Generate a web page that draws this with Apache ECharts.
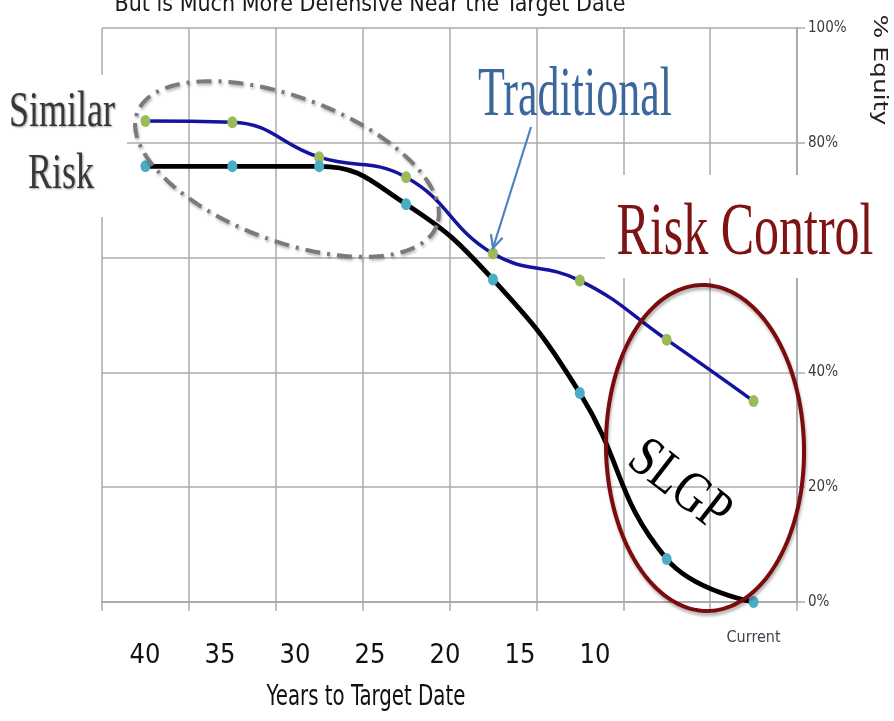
<!DOCTYPE html>
<html>
<head>
<meta charset="utf-8">
<script src="https://cdn.jsdelivr.net/npm/echarts@6/dist/echarts.min.js"></script>
<style>
  html, body { margin: 0; padding: 0; background: #ffffff; }
  #chart { width: 894px; height: 721px; }
</style>
</head>
<body>
<div id="chart"></div>
<script>
// Glide-path stages (left = far from target date, right = at target date)
const stages = ['40', '35', '30', '25', '20', '15', '10', 'Current'];
// % equity held at each stage
const traditional = [83.8, 83.6, 77.5, 74.0, 60.7, 56.0, 45.7, 35.0];
const slgp = [75.9, 75.9, 75.9, 69.3, 56.2, 36.4, 7.5, 0];
// Tick labels
const yearTicks = [40, 35, 30, 25, 20, 15, 10];
const equityTicks = [0, 20, 40, 60, 80, 100];

const NARROW = '"DejaVu Sans Condensed", "Liberation Sans Narrow", sans-serif';
const SERIF = '"Liberation Serif", "DejaVu Serif", serif';
const GRID_COLOR = '#ababab';

// Closed polygon tracing a rotated ellipse (used for the callout rings)
function ellipsePoints(cx, cy, rx, ry, rot, n) {
  const pts = [];
  const c = Math.cos(rot), s = Math.sin(rot);
  for (let i = 0; i < n; i++) {
    const t = (i / n) * Math.PI * 2;
    const ex = rx * Math.cos(t), ey = ry * Math.sin(t);
    pts.push([cx + ex * c - ey * s, cy + ex * s + ey * c]);
  }
  return pts;
}

// Arrow from the "Traditional" caption to its line
const arrowFrom = [531, 127], arrowTo = [493, 248];
function arrowHead(from, to, len, ang) {
  const dx = to[0] - from[0], dy = to[1] - from[1];
  const d = Math.hypot(dx, dy), ux = dx / d, uy = dy / d;
  const wing = a => [to[0] - len * (ux * Math.cos(a) - uy * Math.sin(a)),
                     to[1] - len * (ux * Math.sin(a) + uy * Math.cos(a))];
  return [wing(ang), to, wing(-ang)];
}

const chart = echarts.init(document.getElementById('chart'), null, { renderer: 'canvas' });

const yearScale = 15; // px per year on the year label axis
const gridLeft = 102, gridRight = 797, yearAnchorX = 145;

chart.setOption({
  animation: false,
  backgroundColor: '#ffffff',
  grid: { left: gridLeft, right: 894 - gridRight, top: 28, bottom: 119, containLabel: false },
  xAxis: [
    {
      type: 'category',
      data: stages,
      boundaryGap: true,
      position: 'bottom',
      axisLine: { show: true, onZero: false, lineStyle: { color: GRID_COLOR, width: 2 } },
      axisTick: { show: true, length: 9, lineStyle: { color: GRID_COLOR, width: 1.5 } },
      splitLine: { show: true, lineStyle: { color: GRID_COLOR, width: 1.5 } },
      axisLabel: {
        interval: 0,
        margin: 28,
        fontFamily: NARROW,
        fontSize: 16,
        color: '#3f4650',
        formatter: v => (v === 'Current' ? v : '')
      }
    },
    {
      type: 'value',
      position: 'bottom',
      inverse: true,
      min: yearTicks[0] - (gridRight - yearAnchorX) / yearScale,
      max: yearTicks[0] + (yearAnchorX - gridLeft) / yearScale,
      axisLine: { show: false, onZero: false },
      axisTick: { show: false },
      splitLine: { show: false },
      axisLabel: {
        customValues: yearTicks,
        margin: 40,
        fontFamily: NARROW,
        fontSize: 27,
        color: '#111111'
      }
    }
  ],
  yAxis: {
    type: 'value',
    position: 'right',
    min: equityTicks[0],
    max: equityTicks[equityTicks.length - 1],
    interval: equityTicks[1] - equityTicks[0],
    axisLine: { show: true, onZero: false, lineStyle: { color: GRID_COLOR, width: 2 } },
    axisTick: { show: true, length: 8, lineStyle: { color: GRID_COLOR, width: 1.5 } },
    splitLine: { show: true, lineStyle: { color: GRID_COLOR, width: 1.5 } },
    axisLabel: {
      margin: 11,
      fontFamily: NARROW,
      fontSize: 15,
      color: '#3a3a3a',
      formatter: '{value}%'
    }
  },
  series: [
    {
      name: 'Traditional',
      type: 'line',
      data: traditional,
      smooth: 0.45,
      symbol: 'circle',
      symbolSize: [10, 12],
      lineStyle: { color: '#1414a0', width: 3.5 },
      itemStyle: { color: '#9bbb59' },
      z: 3
    },
    {
      name: 'SLGP',
      type: 'line',
      data: slgp,
      smooth: 0.45,
      symbol: 'circle',
      symbolSize: [10, 12],
      lineStyle: { color: '#000000', width: 4.8 },
      itemStyle: { color: '#4bacc6' },
      z: 4
    }
  ],
  graphic: [
    // caption backgrounds
    { type: 'rect', z: 50, shape: { x: 0, y: 75, width: 127, height: 142 }, style: { fill: '#ffffff' } },
    { type: 'rect', z: 50, shape: { x: 605, y: 175, width: 289, height: 103 }, style: { fill: '#ffffff' } },
    // heading
    {
      type: 'text', z: 60, x: 370, y: 17,
      style: {
        text: 'But is Much More Defensive Near the Target Date',
        font: '23px ' + NARROW, fill: '#1a1a1a', align: 'center', verticalAlign: 'bottom'
      }
    },
    // right axis title
    {
      type: 'text', z: 60, x: 879, y: 70, rotation: -Math.PI / 2, scaleX: 1.25,
      style: { text: '% Equity', font: '20px "DejaVu Sans", sans-serif', fill: '#222222', align: 'center', verticalAlign: 'middle' }
    },
    // x axis title
    {
      type: 'text', z: 60, x: 366, y: 698, scaleY: 1.3,
      style: { text: 'Years to Target Date', font: '22px ' + NARROW, fill: '#111111', align: 'center', verticalAlign: 'middle' }
    },
    // "Similar Risk" caption and its dash-dot ring
    {
      type: 'text', z: 60, x: 62, y: 112, scaleY: 1.43,
      style: { text: 'Similar', font: '36px ' + SERIF, fill: '#3a3834', align: 'center', verticalAlign: 'middle',
               textShadowColor: 'rgba(0,0,0,0.35)', textShadowBlur: 2, textShadowOffsetX: 1, textShadowOffsetY: 1 }
    },
    {
      type: 'text', z: 60, x: 61, y: 174, scaleY: 1.43,
      style: { text: 'Risk', font: '36px ' + SERIF, fill: '#3a3834', align: 'center', verticalAlign: 'middle',
               textShadowColor: 'rgba(0,0,0,0.35)', textShadowBlur: 2, textShadowOffsetX: 1, textShadowOffsetY: 1 }
    },
    {
      type: 'polygon', z: 70,
      shape: { points: ellipsePoints(287, 169, 160, 72, 0.36, 180) },
      style: { fill: null, stroke: '#7a7a7a', lineWidth: 4, lineDash: [15, 7, 3, 7],
               shadowColor: 'rgba(0,0,0,0.3)', shadowBlur: 3, shadowOffsetX: 1, shadowOffsetY: 2 }
    },
    // "Traditional" caption and arrow
    {
      type: 'text', z: 60, x: 575, y: 97, scaleY: 1.57,
      style: { text: 'Traditional', font: '44px ' + SERIF, fill: '#3a679c', align: 'center', verticalAlign: 'middle' }
    },
    {
      type: 'line', z: 70,
      shape: { x1: arrowFrom[0], y1: arrowFrom[1], x2: arrowTo[0], y2: arrowTo[1] },
      style: { stroke: '#4f81bd', lineWidth: 2.2 }
    },
    {
      type: 'polyline', z: 70,
      shape: { points: arrowHead(arrowFrom, arrowTo, 14, 0.45) },
      style: { stroke: '#4f81bd', lineWidth: 2.2, fill: null }
    },
    // "Risk Control" caption and ring
    {
      type: 'text', z: 60, x: 745, y: 234, scaleY: 1.5,
      style: { text: 'Risk Control', font: '50px ' + SERIF, fill: '#7f1212', align: 'center', verticalAlign: 'middle' }
    },
    {
      type: 'polygon', z: 70,
      shape: { points: ellipsePoints(705, 448, 99, 163, -0.02, 180) },
      style: { fill: null, stroke: '#7c0c0c', lineWidth: 4,
               shadowColor: 'rgba(0,0,0,0.3)', shadowBlur: 3, shadowOffsetX: 1, shadowOffsetY: 3 }
    },
    {
      type: 'text', z: 60, x: 679, y: 486, rotation: -0.66, scaleY: 1.25,
      style: { text: 'SLGP', font: '46px ' + SERIF, fill: '#000000', align: 'center', verticalAlign: 'middle' }
    }
  ]
});
</script>
</body>
</html>
